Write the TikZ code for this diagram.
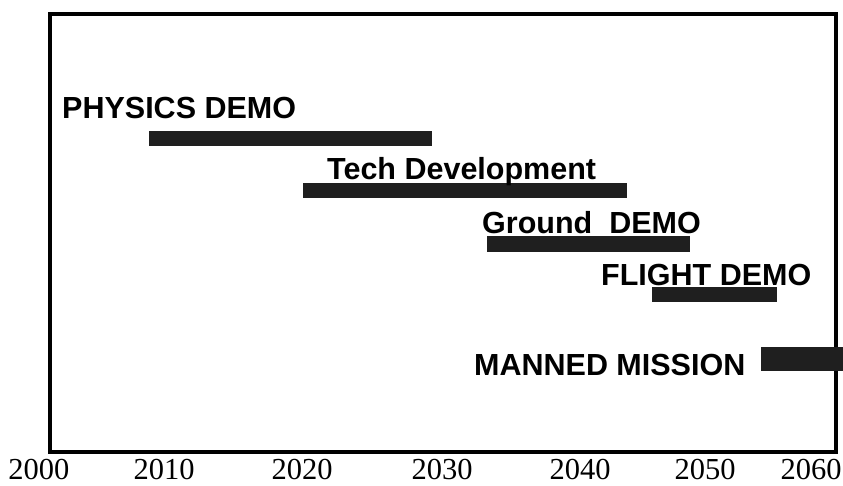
\documentclass[tikz,border=0pt]{standalone}
\usepackage{fontspec}
\setmainfont{Liberation Serif}
\newfontfamily\labelfont{Liberation Sans}
\begin{document}
\begin{tikzpicture}[x=1pt,y=-1pt,
  frame/.style={draw=black,line width=4pt},
  bar/.style={fill=black!88,draw=none},
  phase/.style={font=\labelfont\bfseries\fontsize{30.5}{31}\selectfont,anchor=base west,inner sep=0pt},
  yearlab/.style={font=\fontsize{30.5}{31}\selectfont,anchor=base,inner sep=0pt}]
\useasboundingbox (0,0) rectangle (843,485);
\fill[white] (0,0) rectangle (843,485);
\draw[frame] (49.5,13.5) rectangle (836,452);
% bars
\path[bar] (149,131) rectangle (432,146);
\path[bar] (303,183) rectangle (627,198);
\path[bar] (487,236) rectangle (690,252);
\path[bar] (652,287) rectangle (777,302);
\path[bar] (761,347) rectangle (843,371);
% labels
\node[phase] (physics) at (62,118) {PHYSICS DEMO};
\node[phase] (tech) at (327,179) {Tech Development};
\node[phase] (ground) at (482,233) {Ground\ \ DEMO};
\node[phase] (flight) at (601,285) {FLIGHT DEMO};
\node[phase] (manned) at (474,375) {MANNED MISSION};
% years
\node[yearlab] (y2000) at (39,479) {2000};
\node[yearlab] (y2010) at (164,479) {2010};
\node[yearlab] (y2020) at (302,479) {2020};
\node[yearlab] (y2030) at (442,479) {2030};
\node[yearlab] (y2040) at (580,479) {2040};
\node[yearlab] (y2050) at (705,479) {2050};
\node[yearlab] (y2060) at (811,479) {2060};
\end{tikzpicture}
\end{document}
